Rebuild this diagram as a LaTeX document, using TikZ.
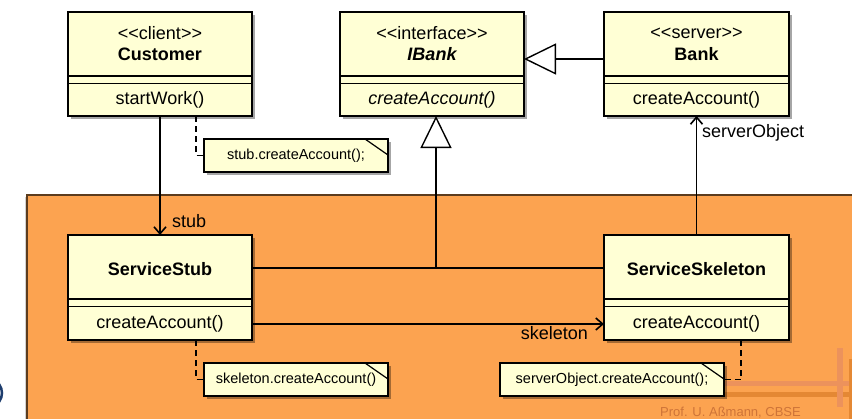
\documentclass[tikz,border=0pt]{standalone}
\usepackage{fontspec}
\setmainfont{Liberation Sans}[Ligatures=TeXOff]
\usetikzlibrary{arrows.meta,shadows,calc}

\definecolor{boxfill}{RGB}{255,255,213}
\definecolor{zonefill}{RGB}{252,163,80}
\definecolor{zoneedge}{RGB}{92,60,30}
\definecolor{barlight}{RGB}{236,146,92}
\definecolor{bardark}{RGB}{228,136,52}
\definecolor{footc}{RGB}{206,116,56}
\definecolor{logoblue}{RGB}{30,62,110}

\newcommand{\stereo}[1]{<\kern0pt<#1>\kern0pt>}

\begin{document}
\begin{tikzpicture}[x=1pt,y=-1pt,
  font=\fontsize{18}{21}\selectfont,
  classbox/.style={draw=black, line width=1.6pt, fill=boxfill,
    drop shadow={shadow xshift=2.5pt, shadow yshift=-2.5pt, fill=black, opacity=0.35},
    minimum width=184pt, inner sep=0pt, outer sep=0pt},
  notebox/.style={draw=black, line width=1.4pt, fill=boxfill,
    drop shadow={shadow xshift=2.5pt, shadow yshift=-2.5pt, fill=black, opacity=0.35},
    minimum height=33pt, inner sep=0pt, outer sep=0pt,
    font=\fontsize{14.5}{17}\selectfont},
  txt/.style={inner sep=0pt},
  divider/.style={line width=1.4pt},
  conn/.style={line width=1.4pt},
  barb/.style={-{Straight Barb[length=7pt,width=12pt,line width=1.6pt]}},
  realize/.style={-{Triangle[length=32pt,width=31pt,fill=white,line width=1.4pt]}},
  notelink/.style={line width=1.4pt, dash pattern=on 6pt off 4pt},
  lbl/.style={inner sep=0pt}
]
\useasboundingbox (0,0) rectangle (852,418);

% distribution zone in the lower part
\draw[gray!35, line width=1pt] (25.5,197) -- (25.5,430);
\draw[fill=zonefill, draw=zoneedge, line width=1.2pt] (27,195) rectangle (880,440);

% decorative bars in the corner
\draw[barlight, line width=5pt] (724,383.5) -- (852,383.5);
\draw[bardark, line width=5pt] (724,394.5) -- (852,394.5);
\draw[barlight, line width=6pt] (840,348) -- (840,407);
\draw[bardark, line width=5pt] (851,359) -- (851,425);
\node[anchor=base west, inner sep=0pt, text=footc, font=\fontsize{13}{15}\selectfont] (foot) at (660,416.5) {Prof. U. Aßmann, CBSE};
\draw[logoblue, line width=2.5pt] (-1,384) to[bend left=35] (-1,402);

% classes
\node[classbox, minimum height=104pt] (cust) at (160,64) {};
\node[classbox, minimum height=104pt] (ibank) at (432,64) {};
\node[classbox, minimum width=185pt, minimum height=104pt] (bank) at (696.5,64) {};
\node[classbox, minimum height=105pt] (stub) at (160,287.5) {};
\node[classbox, minimum width=185pt, minimum height=105pt] (skel) at (696.5,287.5) {};

\foreach \b in {cust,ibank,bank,stub,skel} {
  \draw[divider] ($(\b.north west)+(0,64)$) -- ($(\b.north east)+(0,64)$);
  \draw[divider] ($(\b.north west)+(0,71.5)$) -- ($(\b.north east)+(0,71.5)$);
}

\node[txt] (cust-st) at (160,33) {\stereo{client}};
\node[txt, font=\fontsize{18}{21}\selectfont\bfseries] (cust-nm) at (160,54) {Customer};
\node[txt] (cust-op) at (160,100) {startWork()};

\node[txt] (ibank-st) at (432,33) {\stereo{interface}};
\node[txt, font=\fontsize{18}{21}\selectfont\bfseries\itshape] (ibank-nm) at (432,54) {IBank};
\node[txt, font=\fontsize{18}{21}\selectfont\itshape] (ibank-op) at (432,100) {createAccount()};

\node[txt] (bank-st) at (696.5,33) {\stereo{server}};
\node[txt, font=\fontsize{18}{21}\selectfont\bfseries] (bank-nm) at (696.5,54) {Bank};
\node[txt] (bank-op) at (696.5,100) {createAccount()};

\node[txt, font=\fontsize{18}{21}\selectfont\bfseries] (stub-nm) at (160,269) {ServiceStub};
\node[txt] (stub-op) at (160,324) {createAccount()};

\node[txt, font=\fontsize{18}{21}\selectfont\bfseries] (skel-nm) at (696.5,269) {ServiceSkeleton};
\node[txt] (skel-op) at (696.5,324) {createAccount()};

% notes
\node[notebox, minimum width=184pt] (n1) at (296,155.5) {stub.createAccount();};
\node[notebox, minimum width=184pt] (n2) at (296,379.5) {skeleton.createAccount()};
\node[notebox, minimum width=224pt] (n3) at (612,379.5) {serverObject.createAccount();};
\foreach \n in {n1,n2,n3} {
  \draw[line width=1.2pt] ($(\n.north east)+(-23,0)$) -- ($(\n.north east)+(0,16)$);
}

% note links
\draw[notelink] ($(cust.south east)+(-56,0)$) |- (n1.west);
\draw[notelink] ($(stub.south east)+(-56,0)$) |- (n2.west);
\draw[notelink] ($(skel.south east)+(-48,0)$) |- (n3.east);

% associations
\draw[conn, barb] (cust.south) -- (stub.north);
\node[lbl, anchor=west] (l-stub) at (172,221) {stub};

\draw[conn, barb] (skel.north) -- (bank.south);
\node[lbl, anchor=west] (l-server) at (702,133) {serverObject};

\draw[conn, barb] ($(stub.east)+(0,36.5)$) -- ($(skel.west)+(0,36.5)$);
\node[lbl, anchor=east] (l-skel) at (588,333) {skeleton};

% realizations of IBank
\draw[conn, realize] ($(bank.west)+(0,-5)$) -- ($(ibank.east)+(0,-5)$);
\coordinate (jn) at (436,268);
\draw[conn] (stub.east |- jn) -- (skel.west |- jn);
\draw[conn, realize] (jn) -- (jn |- ibank.south);
\end{tikzpicture}
\end{document}
